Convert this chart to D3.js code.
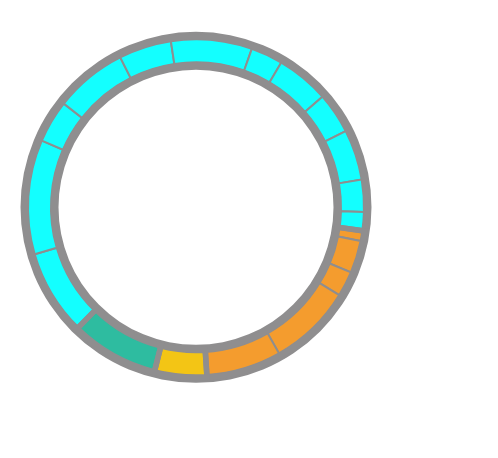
<!DOCTYPE html>
<html><head><meta charset="utf-8">
<script src="https://cdn.jsdelivr.net/npm/d3@7"></script>
<style>html,body{margin:0;padding:0;background:#fff;}svg{display:block;}</style>
</head><body>
<svg id="chart" width="498" height="458"></svg>
<script>
const groups = ["A", "B", "C", "D"];
const groupColors = ["#13ffff", "#f49c2e", "#f3c515", "#2ebca0"];
const groupA = [29.4, 39.6, 14.7, 25.1, 18.2, 28.0, 11.1, 18.3, 14.2, 17.5, 11.1, 6.4];
const groupB = [3.6, 11.2, 8.7, 28.9, 25.9];
const groupC = [17.9];
const groupD = [30.2];
const seriesValues = [groupA, groupB, groupC, groupD];

const svg = d3.select("#chart");
const cx = 196, cy = 207.3;
const g = svg.append("g").attr("transform", `translate(${cx},${cy})`);
const gray = "#8f8e8f";
const start = 224.4 * Math.PI / 180;

const items = [];
seriesValues.forEach((vals, gi) => vals.forEach((v, i) => items.push({group: gi, value: v})));

const pie = d3.pie().sort(null).value(d => d.value).startAngle(start).endAngle(start + 2 * Math.PI);
const subArcs = pie(items);
const groupArcs = pie(seriesValues.map((vals, gi) => ({group: gi, value: d3.sum(vals)})));

// gray ring
g.append("path")
  .attr("d", d3.arc().innerRadius(137.5).outerRadius(175.5).startAngle(0).endAngle(2 * Math.PI)())
  .attr("fill", gray);

const arcSub = d3.arc().innerRadius(145).outerRadius(168);
g.selectAll("path.sub").data(subArcs).join("path")
  .attr("class", "sub")
  .attr("d", arcSub)
  .attr("fill", d => groupColors[d.data.group])
  .attr("stroke", gray).attr("stroke-width", 2);

const arcGroup = d3.arc().innerRadius(142.5).outerRadius(170.5);
g.selectAll("path.grp").data(groupArcs).join("path")
  .attr("class", "grp")
  .attr("d", arcGroup)
  .attr("fill", "none")
  .attr("stroke", gray).attr("stroke-width", 5.5);
</script>
</body></html>
